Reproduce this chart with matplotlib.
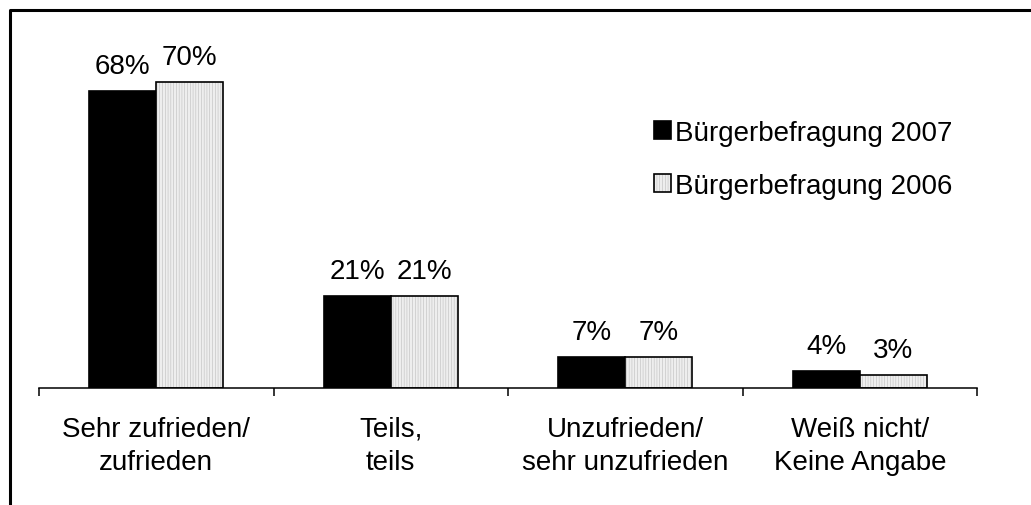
import matplotlib.pyplot as plt
import numpy as np
from matplotlib.lines import Line2D
from matplotlib.patches import Patch

plt.rcParams['font.family'] = ['Liberation Sans', 'DejaVu Sans']
plt.rcParams['hatch.linewidth'] = 0.4

# Zufriedenheit - Bürgerbefragung 2007 vs. 2006 (in %)
categories = ["Sehr zufrieden/\nzufrieden", "Teils,\nteils",
              "Unzufrieden/\nsehr unzufrieden", "Weiß nicht/\nKeine Angabe"]
values_2007 = [68, 21, 7, 4]
values_2006 = [70, 21, 7, 3]
labels = ["Bürgerbefragung 2007", "Bürgerbefragung 2006"]

W, H = 1031, 506
fig = plt.figure(figsize=(W / 100, H / 100), dpi=100)
ax = fig.add_axes([39 / W, 1 - 389 / H, 938 / W, 352 / H])

x = np.arange(len(categories))
bw = 0.286
fs = 20
stipple = dict(color='#eeeeee', edgecolor='#bdbdbd', hatch='||||||', linewidth=0)

b07 = ax.bar(x - bw / 2, values_2007, bw, color='black', edgecolor='black', linewidth=1.2)
# stippled fill, then the black outline on top
ax.bar(x + bw / 2, values_2006, bw, **stipple)
ax.bar(x + bw / 2, values_2006, bw, fill=False, edgecolor='black', linewidth=1.2)

for xi, v in zip(x - bw / 2, values_2007):
    ax.annotate(f"{v}%", (xi, v), xytext=(0, 18), textcoords='offset points',
                ha='center', va='center', fontsize=fs)
for xi, v in zip(x + bw / 2, values_2006):
    ax.annotate(f"{v}%", (xi, v), xytext=(0, 18), textcoords='offset points',
                ha='center', va='center', fontsize=fs)

ax.set_xlim(-0.5, len(categories) - 0.5)
ax.set_ylim(0, 80.5)
for s in ['left', 'right', 'top']:
    ax.spines[s].set_visible(False)
ax.spines['bottom'].set_linewidth(1.1)
ax.set_yticks([])

ax.set_xticks(np.arange(len(categories) + 1) - 0.5)
ax.set_xticklabels([])
ax.tick_params(axis='x', which='major', direction='out', length=6, width=1.1)
ax.set_xticks(x, minor=True)
ax.set_xticklabels(categories, minor=True, fontsize=fs, linespacing=1.35)
ax.tick_params(axis='x', which='minor', length=0, pad=20)

h06 = (Patch(facecolor='#eeeeee', edgecolor='#bdbdbd', hatch='||||||', linewidth=0),
       Patch(fill=False, edgecolor='black', linewidth=1.2))
ax.legend([b07, h06], labels, loc='upper left', frameon=False, fontsize=fs,
          bbox_to_anchor=(654 / W, 1 - 121 / H), bbox_transform=fig.transFigure,
          borderpad=0, borderaxespad=0, handlelength=0.6, handleheight=0.6,
          handletextpad=0.15, labelspacing=0.97)

# outer frame
fig.add_artist(Line2D([9.5 / W, 9.5 / W, 1.0], [0.0, 1 - 10.5 / H, 1 - 10.5 / H],
                      transform=fig.transFigure, color='black', linewidth=2.2))

fig.savefig('out.png', dpi=100)
